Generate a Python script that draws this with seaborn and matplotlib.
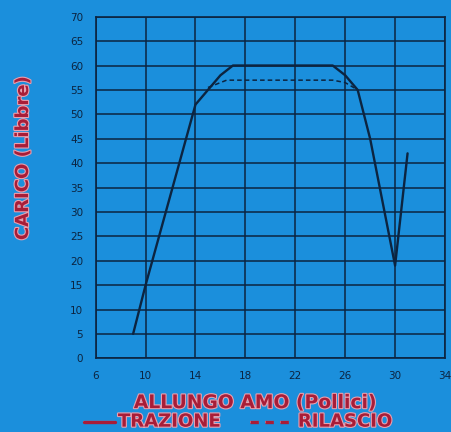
import matplotlib
matplotlib.use("Agg")
import matplotlib.pyplot as plt
import matplotlib.patheffects as pe
import pandas as pd
import seaborn as sns

# dati: allungo amo (pollici) vs carico (libbre)
trazione_x = [9, 10, 14, 15, 16, 17, 25, 26, 27, 28, 30, 31]
trazione_y = [5, 15, 52, 55, 58, 60, 60, 58, 55, 45, 19, 42]

rilascio_x = [15, 16.5, 25, 26, 27]
rilascio_y = [55.5, 57, 57, 56.5, 55]

x_ticks = [6, 10, 14, 18, 22, 26, 30, 34]
y_ticks = list(range(0, 75, 5))

df_traz = pd.DataFrame({"allungo": trazione_x, "carico": trazione_y})
df_ril = pd.DataFrame({"allungo": rilascio_x, "carico": rilascio_y})

blu = "#1b8fdc"
rosso = "#a81d38"
scuro = "#0c2440"

sns.set_style("white")
plt.rcParams["font.family"] = ["DejaVu Sans"]

fig = plt.figure(figsize=(4.52, 4.32), dpi=100, facecolor=blu)
ax = fig.add_axes([0.2117, 0.1706, 0.7728, 0.7907])
ax.set_facecolor(blu)

sns.lineplot(data=df_traz, x="allungo", y="carico", ax=ax, color=scuro,
             linewidth=1.7, sort=False, estimator=None)
sns.lineplot(data=df_ril, x="allungo", y="carico", ax=ax, color=scuro,
             linewidth=1.1, linestyle=(0, (3, 2)), sort=False, estimator=None)

ax.set_xlim(6, 34)
ax.set_ylim(0, 70)
ax.set_xticks(x_ticks)
ax.set_yticks(y_ticks)
ax.grid(True, color=scuro, linewidth=1.1)
ax.set_axisbelow(True)
for s in ax.spines.values():
    s.set_color(scuro)
    s.set_linewidth(1.2)
ax.tick_params(axis="both", colors=scuro, labelsize=7.5, length=3, width=0.8,
               direction="out", pad=6)
ax.set_xlabel("")
ax.set_ylabel("")

effetto = [pe.withStroke(linewidth=1.6, foreground="#e8a0b0")]
fig.text(0.051, 0.633, "CARICO (Libbre)", rotation=90, ha="center", va="center",
         color=rosso, fontsize=13, fontweight="bold", path_effects=effetto)
fig.text(0.565, 0.068, "ALLUNGO AMO (Pollici)", ha="center", va="center",
         color=rosso, fontsize=13.5, fontweight="bold", path_effects=effetto)

# legenda in basso, disegnata a mano come nel riferimento
fig.add_artist(plt.Line2D([0.185, 0.254], [0.024, 0.024], color=rosso,
                          linewidth=2.4, path_effects=effetto))
fig.text(0.261, 0.024, "TRAZIONE", ha="left", va="center", color=rosso,
         fontsize=13, fontweight="bold", path_effects=effetto)
fig.add_artist(plt.Line2D([0.553, 0.648], [0.024, 0.024], color=rosso,
                          linewidth=2.4, linestyle=(0, (2.5, 2)),
                          path_effects=effetto))
fig.text(0.659, 0.024, "RILASCIO", ha="left", va="center", color=rosso,
         fontsize=13, fontweight="bold", path_effects=effetto)

fig.savefig("out.png", dpi=100, facecolor=blu)
